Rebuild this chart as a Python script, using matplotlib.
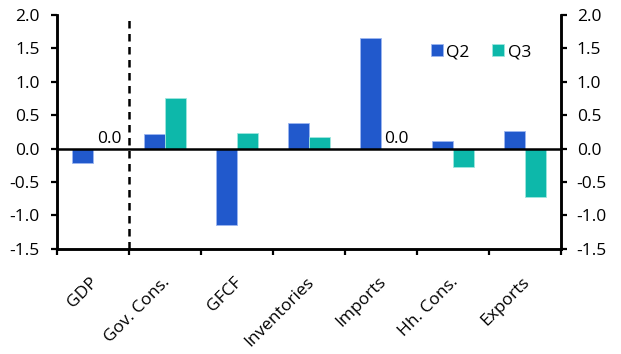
import matplotlib
matplotlib.use("Agg")
import matplotlib.pyplot as plt
import matplotlib.transforms as mtransforms
import numpy as np

categories = ["GDP", "Gov. Cons.", "GFCF", "Inventories", "Imports", "Hh. Cons.", "Exports"]
q2 = [-0.22, 0.22, -1.15, 0.39, 1.66, 0.11, 0.27]
q3 = [0.0, 0.75, 0.24, 0.18, 0.0, -0.27, -0.73]
series_names = ["Q2", "Q3"]
yticks = [-1.5, -1.0, -0.5, 0.0, 0.5, 1.0, 1.5, 2.0]

plt.rcParams['font.family'] = ['Open Sans', 'DejaVu Sans']
blue = "#2159CC"
teal = "#0DB8AA"
fs = 12.5

fig = plt.figure(figsize=(6.21, 3.54), dpi=100)
ax = fig.add_axes([0.092, 0.297, 0.811, 0.661])
x = np.arange(len(categories)) + 0.5
w = 0.29
ax.bar(x - w/2, q2, width=w, color=blue, edgecolor="#9DB6F0", linewidth=0.6, label=series_names[0], zorder=2)
ax.bar(x + w/2, q3, width=w, color=teal, edgecolor="#9FE6DE", linewidth=0.6, label=series_names[1], zorder=2)

ax.set_xlim(0, len(categories))
ax.set_ylim(-1.5, 2.0)
ax.axhline(0, color="black", linewidth=1.8, zorder=3)
ax.axvline(1, color="black", linewidth=1.8, linestyle=(0, (3, 2.2)), zorder=3)

for i, v in enumerate(q3):
    if v == 0.0:
        ax.text(x[i] + 0.05, 0.03, "0.0", ha="left", va="bottom", fontsize=fs)

ax.set_xticks(np.arange(len(categories) + 1))
ax.set_xticklabels([])
ax.set_xticks(x, minor=True)
ax.set_xticklabels(categories, minor=True, rotation=45, ha="right", rotation_mode="anchor", fontsize=fs)
ax.tick_params(axis="x", which="major", direction="out", length=4.5, width=1.6)
ax.tick_params(axis="x", which="minor", length=0, pad=18)
offset = mtransforms.ScaledTranslation(-0.03, 0.0, fig.dpi_scale_trans)
for lab in ax.get_xticklabels(minor=True):
    lab.set_transform(lab.get_transform() + offset)

ax.set_yticks(yticks)
ax.set_yticklabels([f"{t:.1f}" for t in yticks], fontsize=fs)
ax.tick_params(axis="y", direction="out", length=4.5, width=1.6, pad=8)

for s in ["left", "right", "bottom"]:
    ax.spines[s].set_linewidth(1.8)
ax.spines["top"].set_visible(False)

ax2 = ax.twinx()
ax2.set_ylim(-1.5, 2.0)
ax2.set_yticks(yticks)
ax2.set_yticklabels([f"{t:.1f}" for t in yticks], fontsize=fs)
ax2.tick_params(axis="y", direction="out", length=4.5, width=1.6, pad=7)
for s in ["left", "right", "bottom"]:
    ax2.spines[s].set_linewidth(1.8)
ax2.spines["top"].set_visible(False)

ax.legend(loc="upper left", bbox_to_anchor=(0.728, 0.905), ncol=2, frameon=False, fontsize=fs,
          handlelength=0.7, handleheight=0.7, handletextpad=0.2, columnspacing=1.3, borderaxespad=0)

fig.savefig("out.png", dpi=100)
